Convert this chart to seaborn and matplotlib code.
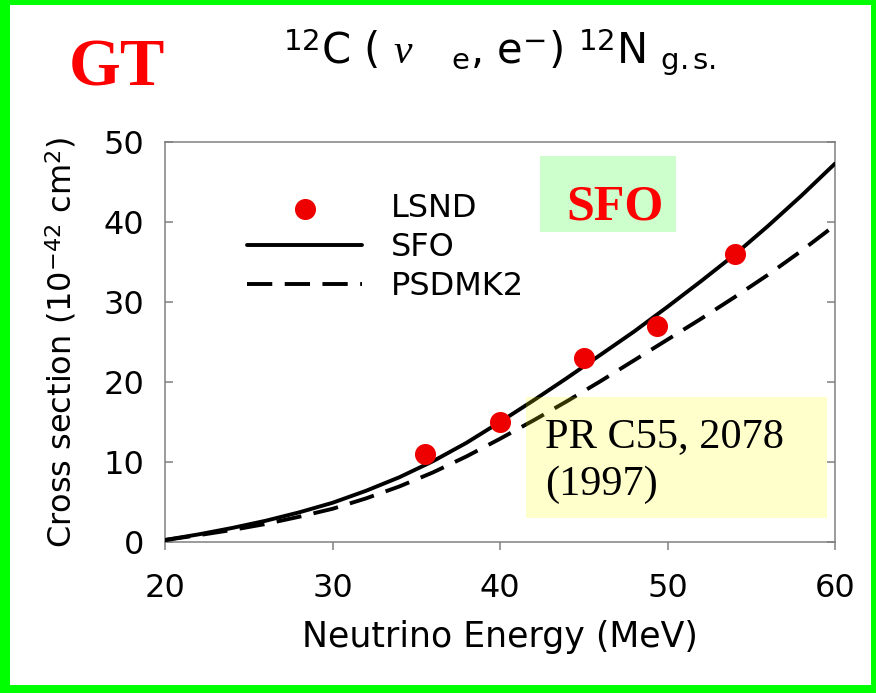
import matplotlib
matplotlib.use("Agg")
import matplotlib.pyplot as plt
from matplotlib.patches import Rectangle
import numpy as np
import pandas as pd
import seaborn as sns

# Calculated cross sections for 12C(nu_e, e-)12N g.s.
energy = [20, 22, 24, 26, 28, 30, 32, 34, 36, 38, 40,
          42, 44, 46, 48, 50, 52, 54, 56, 58, 60]
sfo = [0.25, 0.95, 1.75, 2.65, 3.7, 4.9, 6.4, 8.1, 10.1, 12.4, 15.0,
       17.7, 20.5, 23.4, 26.3, 29.4, 32.6, 35.9, 39.5, 43.3, 47.3]
psdmk2 = [0.25, 0.85, 1.5, 2.25, 3.15, 4.15, 5.45, 6.95, 8.7, 10.7, 12.9,
          15.2, 17.6, 20.1, 22.7, 25.3, 27.9, 30.6, 33.4, 36.4, 39.6]

# LSND measurements
lsnd_energy = [35.5, 40.0, 45.0, 49.4, 54.0]
lsnd_xsec = [11.0, 15.0, 23.0, 27.0, 36.0]

x_ticks = [20, 30, 40, 50, 60]
y_ticks = [0, 10, 20, 30, 40, 50]

sns.set_style("white")
plt.rcParams["font.family"] = ["DejaVu Sans"]
plt.rcParams["mathtext.fontset"] = "custom"
plt.rcParams["mathtext.rm"] = "DejaVu Sans"
plt.rcParams["mathtext.it"] = "Liberation Serif:italic"
plt.rcParams["mathtext.bf"] = "DejaVu Sans:bold"
for key in ["text.color", "axes.labelcolor", "xtick.labelcolor", "ytick.labelcolor"]:
    plt.rcParams[key] = "black"

fig = plt.figure(figsize=(8.76, 6.93), dpi=100)
ax = fig.add_axes([165 / 876, 1 - 542 / 693, 670 / 876, 400 / 693])

curves = pd.DataFrame({"E": energy, "SFO": sfo, "PSDMK2": psdmk2})
points = pd.DataFrame({"E": lsnd_energy, "xsec": lsnd_xsec})

sns.lineplot(data=curves, x="E", y="SFO", ax=ax, color="black", lw=2.8,
             label="SFO", zorder=3)
sns.lineplot(data=curves, x="E", y="PSDMK2", ax=ax, color="black", lw=2.8,
             linestyle=(0, (6.5, 3.2)), label="PSDMK2", zorder=3)
sns.scatterplot(data=points, x="E", y="xsec", ax=ax, color="#ee0000",
                s=230, linewidth=0, label="LSND", zorder=4)

ax.set_xlim(20, 60)
ax.set_ylim(0, 50)
ax.set_xticks(x_ticks)
ax.set_yticks(y_ticks)
ax.set_xlabel("Neutrino Energy (MeV)", fontsize=25, labelpad=12, color="black")
ax.set_ylabel("Cross section (10$^{-42}$ cm$^{2}$)", fontsize=23, labelpad=18,
              color="black")

for side in ["left", "right", "top", "bottom"]:
    ax.spines[side].set_visible(True)
    ax.spines[side].set_color("#808080")
    ax.spines[side].set_linewidth(1.1)

ax.tick_params(axis="x", direction="out", length=6, width=1.1, color="#808080",
               labelcolor="black", labelsize=23, pad=16, top=False, bottom=True)
ax.tick_params(axis="y", direction="in", length=6, width=1.1, color="#808080",
               labelcolor="black", labelsize=23, pad=15, left=True, right=True)

# Legend: LSND first, then the two calculations
handles, labels = ax.get_legend_handles_labels()
order = [labels.index(l) for l in ["LSND", "SFO", "PSDMK2"]]
leg = ax.legend([handles[i] for i in order], [labels[i] for i in order],
                loc="upper left", bbox_to_anchor=(247 / 876, 1 - 193 / 693),
                bbox_transform=fig.transFigure, frameon=False, fontsize=23,
                borderpad=0, borderaxespad=0, handlelength=3.6, handletextpad=0.9,
                labelspacing=0.25)
for t in leg.get_texts():
    t.set_color("black")

# Model label box
ax.add_patch(Rectangle((0.5597, 0.775), 0.203, 0.19, transform=ax.transAxes,
                       facecolor="#00ff00", alpha=0.2, edgecolor="none", zorder=5))
ax.text(0.6716, 0.805, "SFO", transform=ax.transAxes, ha="center", va="baseline",
        color="red", fontsize=36, fontweight="bold", family="Liberation Serif",
        zorder=6)

# Reference box
ax.add_patch(Rectangle((0.5388, 0.059), 0.449, 0.304, transform=ax.transAxes,
                       facecolor="yellow", alpha=0.2, edgecolor="none", zorder=5))
ax.text(0.567, 0.238, "PR C55, 2078", transform=ax.transAxes, ha="left",
        va="baseline", fontsize=30.5, family="Liberation Serif", color="black",
        zorder=6)
ax.text(0.567, 0.1175, "(1997)", transform=ax.transAxes, ha="left",
        va="baseline", fontsize=30.5, family="Liberation Serif", color="black",
        zorder=6)

# Headings
fig.text(117 / 876, 1 - 86 / 693, "GT", ha="center", va="baseline", color="red",
         fontsize=48, fontweight="bold", family="Liberation Serif")
fig.text(500 / 876, 1 - 64 / 693,
         r"$^{12}$C ( $\nu$   $_{\mathrm{e}}$, e$^{-}$) $^{12}$N $_{\mathrm{g.s.}}$",
         ha="center", va="baseline", fontsize=30, color="black")

# Green frame around the figure
W, H = 876, 693
for (x0, y0, w, h) in [(0, 0, 10, H), (W - 5, 0, 5, H), (0, H - 5, W, 5), (0, 0, W, 8)]:
    fig.patches.append(Rectangle((x0 / W, y0 / H), w / W, h / H,
                                 transform=fig.transFigure, facecolor="#00ff00",
                                 edgecolor="none", zorder=10))

fig.savefig("out.png", dpi=100)
